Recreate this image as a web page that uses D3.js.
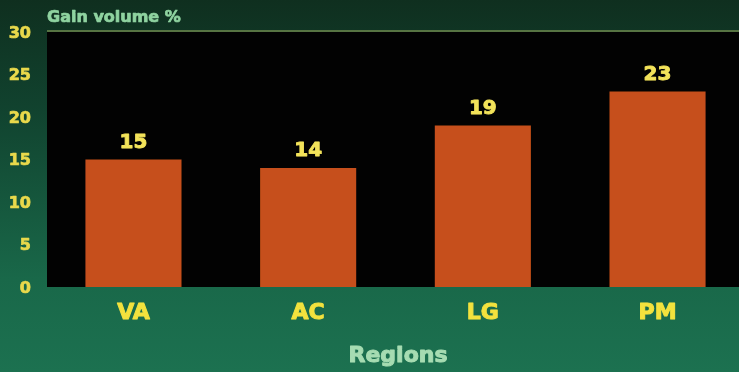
<!DOCTYPE html>
<html>
<head>
<meta charset="utf-8">
<script src="https://cdn.jsdelivr.net/npm/d3@7"></script>
<style>
  html, body { margin: 0; padding: 0; background: #123a28; }
  svg { display: block; }
</style>
</head>
<body>
<svg id="chart" width="739" height="372"></svg>
<script>
// Gain in volume per region (%)
const regions = ["VA", "AC", "LG", "PM"];
const gainValues = [15, 14, 19, 23];
const yTicks = [0, 5, 10, 15, 20, 25, 30];
const yTitle = "Gain volume %";
const xTitle = "Regions";

const W = 739, H = 372;
const plot = { left: 47, right: 744, top: 32, bottom: 287 };

const svg = d3.select("#chart");
const defs = svg.append("defs");

// green backdrop, darker at the top
const bg = defs.append("linearGradient").attr("id", "bg")
  .attr("x1", 0).attr("y1", 0).attr("x2", 0).attr("y2", 1);
bg.append("stop").attr("offset", "0%").attr("stop-color", "#0f2f1f");
bg.append("stop").attr("offset", "30%").attr("stop-color", "#11432f");
bg.append("stop").attr("offset", "75%").attr("stop-color", "#196849");
bg.append("stop").attr("offset", "100%").attr("stop-color", "#1c7150");

const glow = defs.append("filter").attr("id", "soft")
  .attr("x", "-10%").attr("y", "-10%").attr("width", "120%").attr("height", "120%");
glow.append("feGaussianBlur").attr("stdDeviation", 0.6);

svg.append("rect").attr("width", W).attr("height", H).attr("fill", "url(#bg)");

const x = d3.scaleBand()
  .domain(regions)
  .range([plot.left, plot.right])
  .paddingInner(0.45)
  .paddingOuter(0.22);

const y = d3.scaleLinear()
  .domain([0, 30])
  .range([plot.bottom, plot.top]);

// heavy text: fill plus a thin stroke in the same colour
function heavy(sel, color, w) {
  sel.attr("font-family", "DejaVu Sans")
    .attr("font-weight", "bold")
    .attr("fill", color)
    .attr("stroke", color)
    .attr("stroke-width", w)
    .attr("stroke-linejoin", "round")
    .attr("filter", "url(#soft)");
}

// black plotting area with a thin olive rule on top
svg.append("rect")
  .attr("x", plot.left).attr("y", plot.top)
  .attr("width", W - plot.left).attr("height", plot.bottom - plot.top)
  .attr("fill", "#020202");
svg.append("line")
  .attr("x1", plot.left).attr("x2", W)
  .attr("y1", plot.top - 1).attr("y2", plot.top - 1)
  .attr("stroke", "#6f8a4e").attr("stroke-width", 1.5);

// bars
svg.append("g").selectAll("rect")
  .data(regions.map((r, i) => ({ r, v: gainValues[i] })))
  .join("rect")
  .attr("x", d => x(d.r))
  .attr("y", d => y(d.v))
  .attr("width", x.bandwidth())
  .attr("height", d => y(0) - y(d.v))
  .attr("fill", "#c64f1b")
  .attr("filter", "url(#soft)");

// value labels above the bars
svg.append("g").selectAll("text")
  .data(regions.map((r, i) => ({ r, v: gainValues[i] })))
  .join("text")
  .attr("x", d => x(d.r) + x.bandwidth() / 2)
  .attr("y", d => y(d.v) - 12)
  .attr("text-anchor", "middle")
  .attr("font-size", 20)
  .call(heavy, "#f3e35a", 0.9)
  .text(d => d.v);

// y axis (labels only)
const yAxis = d3.axisLeft(y).tickValues(yTicks).tickSize(0).tickPadding(0);
const gy = svg.append("g")
  .attr("transform", `translate(31,0)`)
  .call(yAxis);
gy.select(".domain").remove();
gy.selectAll("text")
  .attr("font-size", 16)
  .call(heavy, "#e9d94c", 0.7);

// x axis (category labels only)
const xAxis = d3.axisBottom(x).tickSize(0).tickPadding(0);
const gx = svg.append("g")
  .attr("transform", `translate(0,${plot.bottom + 16})`)
  .call(xAxis);
gx.select(".domain").remove();
gx.selectAll("text")
  .attr("font-size", 22)
  .call(heavy, "#f3e23e", 1);

// titles
svg.append("text")
  .attr("x", 47).attr("y", 22)
  .attr("font-size", 16)
  .call(heavy, "#8fd3a0", 0.7)
  .text(yTitle);

svg.append("text")
  .attr("x", 398).attr("y", 362)
  .attr("text-anchor", "middle")
  .attr("font-size", 22)
  .call(heavy, "#a6dcb2", 1)
  .text(xTitle);
</script>
</body>
</html>
